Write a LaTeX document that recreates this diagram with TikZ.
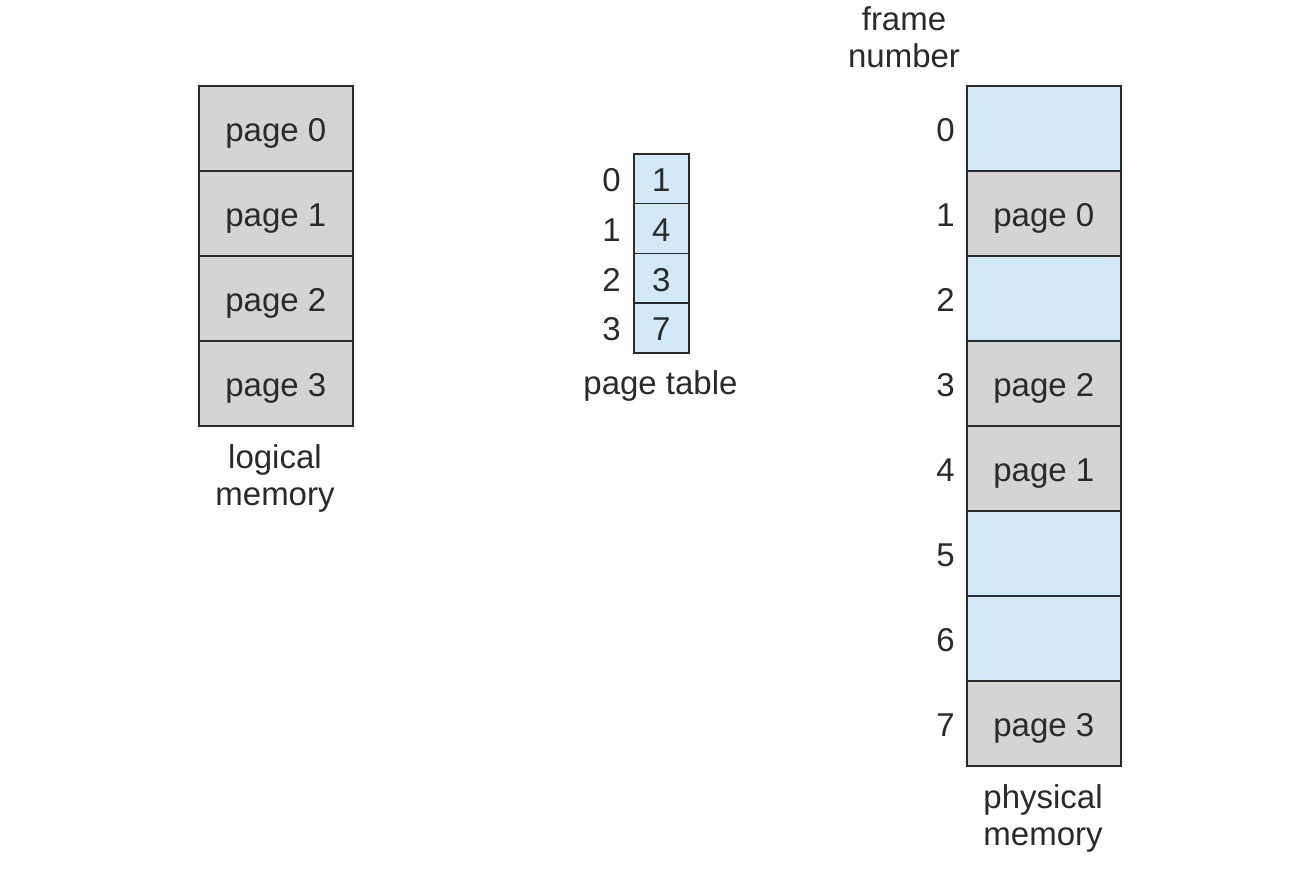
\documentclass[tikz,border=0pt]{standalone}
\usepackage{fontspec}
\setmainfont{Liberation Sans}
\definecolor{cellgray}{HTML}{D4D4D6}
\definecolor{cellblue}{HTML}{D2E9F8}
\definecolor{inkdark}{HTML}{2A2A2A}
\begin{document}
\begin{tikzpicture}[x=1pt,y=-1pt,
  every node/.style={text=inkdark,font=\fontsize{33}{38}\selectfont},
  memcell/.style={draw=inkdark,line width=1.6pt,minimum width=154pt,minimum height=85pt,inner sep=0pt,
    text height=26pt,text depth=0pt,anchor=north west},
  used/.style={memcell,fill=cellgray},
  free/.style={memcell,fill=cellblue},
  ptcell/.style={draw=inkdark,line width=1.6pt,fill=cellblue,minimum width=55pt,minimum height=49.75pt,inner sep=0pt,
    text height=26pt,text depth=0pt,anchor=north west},
  idx/.style={anchor=east,inner sep=0pt,text height=26pt,text depth=0pt},
  caption/.style={align=center,font=\fontsize{33}{37}\selectfont}]
\useasboundingbox (0,0) rectangle (1306,876);

% logical memory
\node[used] (lm0) at (198,85)  {page 0};
\node[used] (lm1) at (198,170) {page 1};
\node[used] (lm2) at (198,255) {page 2};
\node[used] (lm3) at (198,340) {page 3};
\node[caption] (lmcap) at (275,478) {logical\\memory};

% page table
\node[ptcell] (pt0) at (633,153)    {1};
\node[ptcell] (pt1) at (633,202.75) {4};
\node[ptcell] (pt2) at (633,252.5)  {3};
\node[ptcell] (pt3) at (633,302.25) {7};
\foreach \i in {0,...,3}
  \node[idx] (pti\i) at ([xshift=-12pt]pt\i.west) {\i};
\node (ptcap) at (660.5,386) {page table};

% physical memory
\node[free] (pm0) at (966,85)  {};
\node[used] (pm1) at (966,170) {page 0};
\node[free] (pm2) at (966,255) {};
\node[used] (pm3) at (966,340) {page 2};
\node[used] (pm4) at (966,425) {page 1};
\node[free] (pm5) at (966,510) {};
\node[free] (pm6) at (966,595) {};
\node[used] (pm7) at (966,680) {page 3};
\foreach \i in {0,...,7}
  \node[idx] (fn\i) at ([xshift=-11pt]pm\i.west) {\i};
\node[caption] (fncap) at (904,37) {frame\\number};
\node[caption] (pmcap) at (1043,818) {physical\\memory};
\end{tikzpicture}
\end{document}
